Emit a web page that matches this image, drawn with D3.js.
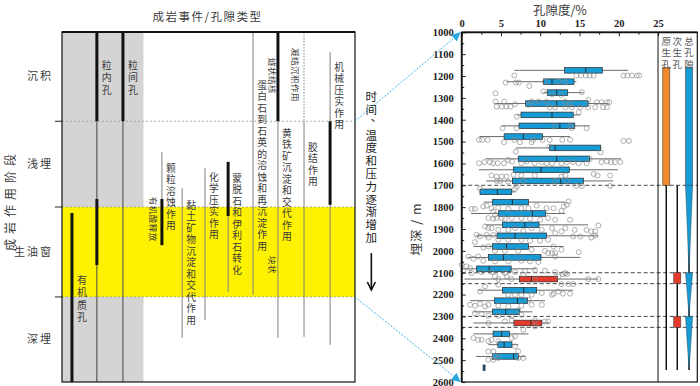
<!DOCTYPE html>
<html>
<head>
<meta charset="utf-8">
<script src="https://cdn.jsdelivr.net/npm/d3@7"></script>
<style>
body { margin: 0; background: #fff; }
svg text { font-family: "Noto Sans CJK SC", sans-serif; fill: #3a3a3a; }
svg text.num { font-family: "Liberation Serif", serif; font-weight: bold; fill: #222; }
</style>
</head>
<body>
<div id="chart"></div>
<script>
// ---- left panel: diagenetic stages, pore types, events (relative burial scale 0-100) ----
const stageNames = ["沉积", "浅埋", "生油窗", "深埋"];
const stageBounds = [0, 25.5, 50, 75.7, 100];

const poreTypes = ["有机质孔", "粒内孔", "粒间孔"];
const porePos = [3.4, 11.9, 20.8];
const poreLabelTop = [69.4, 8, 8];
const poreSegs = [
    [[51.7, 100, "thick"]],
    [[0, 25.5, "thick"], [25.5, 47.7, "dark"], [47.7, 66.6, "thick"], [66.6, 100, "dark"]],
    [[0, 25.5, "thick"], [25.5, 100, "dark"]]
];

const events = ["颗粒溶蚀作用", "黏土矿物沉淀和交代作用", "化学压实作用", "蒙脱石和伊利石转化",
    "蛋白石到石英的溶蚀和再沉淀作用", "黄铁矿沉淀和交代作用", "胶结作用", "机械压实作用"];
const eventPos = [34.1, 41.0, 48.8, 56.7, 65.2, 73.7, 82.6, 91.5];
const eventLabelTop = [37.4, 48, 40, 40.3, 13.7, 27.4, 31.4, 8.6];
const eventSegs = [
    [[34.3, 47.7, "thin"], [47.7, 60.9, "thick"]],
    [[44.6, 87.4, "thin"]],
    [[38.9, 82.3, "thin"]],
    [[37.1, 52.6, "thick"], [52.6, 74.3, "thin"]],
    [[0, 75.1, "thin"]],
    [[0, 25.5, "thick"], [25.5, 87.4, "thin"]],
    [[0, 25.5, "dot"], [25.5, 87.1, "thin"]],
    [[5.7, 25.5, "thin"], [25.5, 49.4, "thick"], [49.4, 89.4, "thin"]]
];
// small sideways notes
const notes = ["有机酸释放", "燧状结核", "块状", "凝结沉积作用"];
const notePos = [30.9, 71.7, 71.7, 79.5];
const noteTop = [47.1, 7.4, 64, 4.6];

// ---- right panel: porosity box plots by depth ----
const depthBins = [1174, 1226, 1276, 1326, 1378, 1428, 1477, 1529, 1579, 1629, 1680, 1730, 1777, 1829,
    1881, 1931, 1980, 2030, 2082, 2129, 2180, 2228, 2279, 2330, 2380, 2429, 2483, 2535];
const whiskerLow = [6.7, 5.7, 10.4, 4.2, 7.0, 5.1, 2.25, 6.9, 3.0, 2.2, 3.1, 2.3, 2.8, 1.2,
    3.0, 1.8, 1.5, 0.75, 0.0, 0.34, 2.1, 1.06, 1.5, 1.5, 1.5, 3.4, 1.8, 2.75];
const q1 = [13.1, 10.4, 10.9, 8.15, 7.55, 7.3, 5.4, 11.2, 7.2, 6.6, 6.45, 2.33, 3.9, 4.7,
    5.2, 4.5, 3.9, 3.4, 1.9, 7.35, 5.2, 4.16, 3.9, 6.65, 4.0, 4.6, 3.9, 2.72];
const median = [15.8, 11.5, 12.1, 12.1, 11.5, 12.5, 7.85, 11.9, 12.1, 10.1, 12.6, 4.54, 6.45, 9.0,
    8.05, 6.8, 5.7, 5.3, 3.5, 8.9, 7.9, 7.1, 5.6, 8.8, 5.1, 5.4, 6.6, 2.85];
const q3 = [17.9, 14.3, 13.5, 16.1, 14.2, 14.4, 10.3, 17.7, 16.3, 13.7, 15.5, 6.37, 8.5, 10.7,
    9.85, 10.8, 8.5, 10.1, 6.3, 12.2, 9.55, 8.4, 7.35, 10.2, 6.1, 6.4, 7.2, 2.98];
const whiskerHigh = [21.2, 14.6, 15.5, 18.7, 15.1, 16.3, 13.8, 17.8, 20.3, 19.9, 19.3, 6.9, 13.2, 13.2,
    16.1, 17.4, 13.0, 15.1, 9.5, 17.4, 14.2, 10.6, 9.0, 11.2, 8.5, 7.2, 8.1, 2.98];
const secondaryBins = [2129, 2330];

// individual samples [porosity %, depth m]
const samples = [
    [6.7, 1198], [14.6, 1198], [15.2, 1198], [15.8, 1198], [16.3, 1198], [16.8, 1198], [20.6, 1198], [21.1, 1198], [21.7, 1198], [22.3, 1198], [22.6, 1198],
    [5.6, 1230], [6.9, 1230], [7.3, 1230], [8.6, 1246], [10.6, 1226], [12.3, 1226], [13.2, 1229],
    [4.3, 1279], [10.4, 1271], [11.5, 1284], [12.7, 1287], [15.3, 1274],
    [4.3, 1317], [5.4, 1317], [4.45, 1340], [5.1, 1340], [5.7, 1340], [6.2, 1340], [6.8, 1329], [8.9, 1317], [9.8, 1317], [10.8, 1317],
    [13.2, 1317], [13.8, 1325], [16.1, 1310], [17.2, 1320], [17.8, 1320], [18.5, 1320], [18.8, 1320], [16.1, 1343], [17.0, 1343],
    [18.0, 1343], [18.5, 1343], [13.2, 1343], [14.0, 1343], [15.1, 1343], [11.9, 1343], [11.2, 1343], [8.5, 1332],
    [7.0, 1386], [14.9, 1366],
    [5.2, 1439], [7.0, 1439], [11.8, 1431], [13.8, 1431], [14.0, 1439], [15.9, 1439],
    [2.2, 1492], [2.6, 1492], [3.3, 1492], [5.4, 1503], [6.7, 1492], [7.4, 1503], [8.9, 1503], [9.1, 1492], [10.3, 1492],
    [11.2, 1492], [12.8, 1492], [13.8, 1492], [20.6, 1497], [21.3, 1497],
    [6.9, 1546], [11.2, 1523], [17.7, 1549],
    [2.2, 1599], [2.9, 1594], [3.6, 1594], [4.0, 1599], [4.6, 1599], [5.4, 1599], [5.9, 1584], [6.4, 1591], [7.6, 1599], [8.3, 1591],
    [9.3, 1599], [10.2, 1594], [10.8, 1599], [11.5, 1599], [12.7, 1599], [13.4, 1594], [14.2, 1594], [14.9, 1599], [15.9, 1599],
    [16.3, 1579], [17.8, 1594], [18.5, 1591], [19.0, 1594], [20.2, 1594], [19.5, 1594],
    [3.8, 1655], [4.45, 1660], [5.1, 1660], [5.7, 1660], [6.6, 1652], [7.6, 1655], [9.3, 1655], [13.2, 1655], [12.7, 1660],
    [16.8, 1648], [17.3, 1655], [18.9, 1655],
    [4.45, 1680], [4.9, 1680], [5.9, 1683], [7.0, 1706], [7.85, 1680], [11.9, 1680], [13.4, 1680], [14.6, 1703], [15.3, 1703], [18.9, 1703],
    [2.33, 1716], [6.79, 1716],
    [1.27, 1808], [1.69, 1808], [2.75, 1797], [3.18, 1793], [3.8, 1805], [4.66, 1802], [5.94, 1808], [7.6, 1805], [8.5, 1805],
    [9.55, 1793], [10.8, 1805], [11.7, 1805], [13.0, 1797], [13.6, 1774], [13.4, 1789],
    [3.4, 1850], [4.03, 1853], [4.45, 1850], [5.1, 1850], [5.5, 1853], [6.36, 1850], [7.6, 1850], [8.7, 1853], [10.0, 1858],
    [11.0, 1850], [11.9, 1858], [13.8, 1858], [12.7, 1817], [4.03, 1820], [4.24, 1835],
    [2.97, 1888], [3.4, 1896], [3.8, 1896], [4.66, 1904], [5.94, 1904], [6.79, 1896], [7.85, 1908], [8.9, 1896], [10.2, 1904],
    [11.5, 1896], [13.2, 1896], [14.4, 1904], [15.9, 1904], [16.5, 1911], [17.4, 1884], [17.0, 1911],
    [1.9, 1927], [2.33, 1934], [3.18, 1927], [3.4, 1939], [4.03, 1927], [4.66, 1949], [5.94, 1949], [7.6, 1949], [8.7, 1954],
    [9.97, 1954], [11.0, 1949], [11.9, 1919], [12.7, 1911], [14.2, 1934], [15.1, 1934], [16.5, 1939], [17.0, 1930],
    [1.69, 1960], [2.75, 1984], [3.4, 1980], [4.24, 2000], [5.5, 2000], [7.2, 2000], [8.9, 1995], [10.6, 2000], [11.7, 1980],
    [12.7, 1995], [11.5, 2010],
    [0.85, 2026], [1.48, 2036], [2.1, 2026], [2.75, 2045], [4.24, 2048], [5.94, 2048], [7.6, 2045], [8.7, 2048], [9.76, 2051],
    [11.0, 2010], [11.9, 2010], [11.9, 2026], [14.9, 2006],
    [0, 2064], [0.6, 2071], [1.06, 2079], [0.2, 2091], [1.27, 2102], [2.54, 2097], [3.8, 2097], [5.5, 2102], [6.79, 2097],
    [8.06, 2091], [9.33, 2087], [10.6, 2091], [11.9, 2097], [12.9, 2106], [13.4, 2106], [4.24, 2117], [5.73, 2117],
    [4.66, 2129], [6.36, 2129], [7.85, 2109], [9.33, 2132], [12.3, 2117], [13.2, 2102], [12.7, 2152], [13.6, 2152], [14.2, 2152],
    [16.1, 2129], [17.4, 2129],
    [2.33, 2186], [2.97, 2163], [4.66, 2155], [5.94, 2201], [6.79, 2201], [7.6, 2201], [8.9, 2201], [10.2, 2193], [11.5, 2201], [12.3, 2186],
    [1.06, 2247], [1.69, 2251], [2.33, 2242], [2.97, 2254], [3.4, 2247], [4.66, 2251], [5.94, 2254], [7.6, 2251], [8.9, 2247],
    [10.2, 2247], [8.5, 2224], [11.7, 2196], [12.9, 2196], [13.8, 2196],
    [1.69, 2285], [2.54, 2288], [3.4, 2297], [4.66, 2297], [6.36, 2297], [7.6, 2292], [7.2, 2272],
    [3.4, 2330], [5.5, 2323], [6.36, 2318], [9.33, 2318], [10.6, 2323], [11.0, 2323], [9.33, 2346],
    [1.48, 2399], [2.1, 2407], [2.54, 2407], [3.4, 2414], [3.8, 2407], [6.36, 2399], [6.79, 2391], [7.85, 2361],
    [3.4, 2460], [4.03, 2460], [4.66, 2414], [7.2, 2460], [6.79, 2437],
    [3.4, 2498], [4.03, 2498], [4.66, 2490], [7.2, 2490], [7.85, 2490], [4.24, 2483]
];

// zone boundaries and pore evolution columns
const zoneDepths = [1700, 2100, 2150, 2300, 2350];
const columnNames = ["原生孔", "次生孔", "总孔隙"];
const columnPos = [26.05, 27.45, 28.95];
const primaryBar = [1160, 1700];
const primaryTail = [1700, 2545];
const secondaryLine = [1700, 2545];
const secondaryZones = [[2100, 2150], [2300, 2350]];
const totalBar = [1160, 1700];
const totalWedges = [[1700, 2095], [2100, 2295], [2300, 2545]];

const xTicks = [0, 5, 10, 15, 20, 25];
const yTicks = d3.range(1000, 2601, 100);

const blue = "#179bd7", red = "#e63a2c", orange = "#f28a2d", arrowBlue = "#2aa7e1";

const svg = d3.select("#chart").append("svg")
    .attr("width", 700)
    .attr("height", 386);

const defs = svg.append("defs");
defs.append("marker").attr("id", "tip")
    .attr("viewBox", "0 0 10 10").attr("refX", 10).attr("refY", 5)
    .attr("markerWidth", 9).attr("markerHeight", 9).attr("markerUnits", "userSpaceOnUse")
    .attr("orient", "auto")
    .append("path").attr("d", "M0,0L10,5L0,10z").attr("fill", arrowBlue);

// vertical text, one upright character per cell
function vText(g, str, cx, top, size, step) {
    const t = g.append("text").attr("font-size", size).attr("text-anchor", "middle");
    [...str].forEach((ch, i) => {
        const isMark = ch === "、";
        t.append("tspan")
            .attr("x", isMark ? cx + size * 0.45 : cx)
            .attr("y", top + i * step + size * (isMark ? 0.35 : 0.88))
            .text(ch);
    });
    return t;
}

// ===== left panel =====
const lx = d3.scaleLinear().domain([0, 100]).range([62, 355]);
const ly = d3.scaleLinear().domain([0, 100]).range([32, 382]);
const left = svg.append("g");

left.append("rect")
    .attr("x", lx(0)).attr("y", ly(0))
    .attr("width", lx(porePos[2] + 7) - lx(0)).attr("height", ly(100) - ly(0))
    .attr("fill", "#d4d4d4");

left.append("rect")
    .attr("x", lx(0)).attr("y", ly(stageBounds[2]))
    .attr("width", lx(100) - lx(0)).attr("height", ly(stageBounds[3]) - ly(stageBounds[2]))
    .attr("fill", "#fff200");

// stage boundaries
stageBounds.slice(1, 4).forEach(b => {
    left.append("line")
        .attr("x1", lx(0)).attr("x2", lx(100)).attr("y1", ly(b)).attr("y2", ly(b))
        .attr("stroke", "#999").attr("stroke-width", 0.8).attr("stroke-dasharray", "2,2");
    left.append("line")
        .attr("x1", lx(0) - 7).attr("x2", lx(0)).attr("y1", ly(b)).attr("y2", ly(b))
        .attr("stroke", "#222").attr("stroke-width", 1);
});

const segStyle = {
    thick: { stroke: "#111", width: 3, dash: null },
    dark: { stroke: "#444", width: 1, dash: null },
    thin: { stroke: "#808080", width: 1, dash: null },
    dot: { stroke: "#808080", width: 1, dash: "1.5,1.5" }
};
function drawSegs(pos, segs) {
    segs.forEach(s => {
        const st = segStyle[s[2]];
        left.append("line")
            .attr("x1", lx(pos)).attr("x2", lx(pos))
            .attr("y1", ly(s[0])).attr("y2", ly(s[1]))
            .attr("stroke", st.stroke).attr("stroke-width", st.width)
            .attr("stroke-dasharray", st.dash);
    });
}

poreTypes.forEach((name, i) => {
    drawSegs(porePos[i], poreSegs[i]);
    vText(left, name, lx(porePos[i]) + 10, ly(poreLabelTop[i]), 10, 12.5);
});
events.forEach((name, i) => {
    drawSegs(eventPos[i], eventSegs[i]);
    vText(left, name, lx(eventPos[i]) + 9, ly(eventLabelTop[i]), 9.8, 11.5);
});
notes.forEach((name, i) => {
    left.append("text")
        .attr("transform", `translate(${lx(notePos[i])},${ly(noteTop[i])}) rotate(90)`)
        .attr("dy", "0.35em")
        .attr("font-size", 8.5)
        .attr("letter-spacing", 0.5)
        .text(name);
});

// frame
left.append("rect")
    .attr("x", lx(0)).attr("y", ly(0))
    .attr("width", lx(100) - lx(0)).attr("height", ly(100) - ly(0))
    .attr("fill", "none").attr("stroke", "#111").attr("stroke-width", 1.2);
left.append("line")
    .attr("x1", lx(0)).attr("x2", lx(100)).attr("y1", ly(0)).attr("y2", ly(0))
    .attr("stroke", "#111").attr("stroke-width", 2);

stageNames.forEach((name, i) => {
    left.append("text")
        .attr("x", 53).attr("y", ly((stageBounds[i] + stageBounds[i + 1]) / 2))
        .attr("dy", "0.35em")
        .attr("text-anchor", "end")
        .attr("font-size", 11)
        .attr("letter-spacing", 2)
        .text(name);
});
left.append("text")
    .attr("transform", `translate(11,${ly(48)}) rotate(-90)`)
    .attr("dy", "0.35em")
    .attr("text-anchor", "middle")
    .attr("font-size", 12)
    .attr("letter-spacing", 5)
    .text("成岩作用阶段");
left.append("text")
    .attr("x", (lx(0) + lx(100)) / 2 - 1).attr("y", 21)
    .attr("text-anchor", "middle")
    .attr("font-size", 11.5)
    .attr("letter-spacing", 1.5)
    .text("成岩事件/孔隙类型");

// ===== right panel =====
const x = d3.scaleLinear().domain([0, 30]).range([461.7, 697.3]);
const y = d3.scaleLinear().domain([1000, 2600]).range([32.3, 382]);
const right = svg.append("g");
const boxH = 5.6;

// zone lines
zoneDepths.forEach(d => {
    right.append("line")
        .attr("x1", x(0)).attr("x2", x(30)).attr("y1", y(d)).attr("y2", y(d))
        .attr("stroke", "#333").attr("stroke-width", 0.9).attr("stroke-dasharray", "4,2.5");
});

// whiskers
right.selectAll(".whisker").data(depthBins).enter().append("line")
    .attr("class", "whisker")
    .attr("x1", (d, i) => x(whiskerLow[i])).attr("x2", (d, i) => x(whiskerHigh[i]))
    .attr("y1", d => y(d)).attr("y2", d => y(d))
    .attr("stroke", "#444").attr("stroke-width", 0.8);

// boxes
right.selectAll(".box").data(depthBins).enter().append("rect")
    .attr("class", "box")
    .attr("x", (d, i) => x(q1[i]))
    .attr("y", d => y(d) - boxH / 2)
    .attr("width", (d, i) => Math.max(x(q3[i]) - x(q1[i]), 1))
    .attr("height", boxH)
    .attr("fill", d => secondaryBins.includes(d) ? red : blue)
    .attr("stroke", "#2b2b2b").attr("stroke-width", 0.7);

right.selectAll(".med").data(depthBins).enter().append("line")
    .attr("class", "med")
    .attr("x1", (d, i) => x(median[i])).attr("x2", (d, i) => x(median[i]))
    .attr("y1", d => y(d) - boxH / 2).attr("y2", d => y(d) + boxH / 2)
    .attr("stroke", "#222").attr("stroke-width", 0.9);

// samples
right.selectAll(".pt").data(samples).enter().append("circle")
    .attr("class", "pt")
    .attr("cx", d => x(d[0])).attr("cy", d => y(d[1]))
    .attr("r", 2.5)
    .attr("fill", "none").attr("stroke", "#8a8a8a").attr("stroke-width", 0.75)
    .attr("stroke-opacity", 0.9);

// pore evolution columns
const half = 0.45;
function bar(col, range, color) {
    right.append("rect")
        .attr("x", x(columnPos[col] - half)).attr("y", y(range[0]))
        .attr("width", x(columnPos[col] + half) - x(columnPos[col] - half))
        .attr("height", y(range[1]) - y(range[0]))
        .attr("fill", color).attr("stroke", "#444").attr("stroke-width", 0.6);
}
function vline(col, range) {
    right.append("line")
        .attr("x1", x(columnPos[col])).attr("x2", x(columnPos[col]))
        .attr("y1", y(range[0])).attr("y2", y(range[1]))
        .attr("stroke", "#111").attr("stroke-width", 1.5);
}
bar(0, primaryBar, orange);
vline(0, primaryTail);
vline(1, secondaryLine);
secondaryZones.forEach(z => bar(1, z, red));
bar(2, totalBar, blue);
vline(2, [totalWedges[0][0], totalWedges[2][1]]);
totalWedges.forEach(w => {
    const c = columnPos[2];
    right.append("path")
        .attr("d", `M${x(c - half)},${y(w[0])}L${x(c + half)},${y(w[0])}L${x(c)},${y(w[1])}Z`)
        .attr("fill", blue).attr("stroke", "#2a4a5a").attr("stroke-width", 0.5);
});
columnNames.forEach((name, i) => {
    vText(right, name, x(columnPos[i]), y(1000) + 4, 9.5, 11.5).style("fill", "#555");
});

// axes
const yAxis = right.append("g").attr("transform", `translate(${x(0)},0)`)
    .call(d3.axisLeft(y).tickValues(yTicks).tickSize(-4).tickPadding(8).tickFormat(d3.format("d")));
right.append("g").attr("transform", `translate(${x(0)},0)`)
    .call(d3.axisLeft(y).tickValues(yTicks.slice(0, -1).map(d => d + 50)).tickSize(-2.5).tickFormat(""))
    .select(".domain").remove();
const xAxis = right.append("g").attr("transform", `translate(0,${y(1000)})`)
    .call(d3.axisTop(x).tickValues(xTicks).tickSize(-4).tickPadding(5));
right.append("g").attr("transform", `translate(0,${y(1000)})`)
    .call(d3.axisTop(x).tickValues(xTicks.slice(0, -1).map(d => d + 2.5)).tickSize(-2.5).tickFormat(""))
    .select(".domain").remove();
[yAxis, xAxis].forEach(a => {
    a.select(".domain").remove();
    a.selectAll("text").attr("class", "num").attr("font-size", 10.5);
});
svg.selectAll(".tick line").attr("stroke", "#222");

// frame
right.append("rect")
    .attr("x", x(0)).attr("y", y(1000))
    .attr("width", x(30) - x(0)).attr("height", y(2600) - y(1000))
    .attr("fill", "none").attr("stroke", "#111").attr("stroke-width", 1.2);
right.append("line")
    .attr("x1", x(0)).attr("x2", x(0)).attr("y1", y(1000)).attr("y2", y(2600))
    .attr("stroke", "#111").attr("stroke-width", 1.8);
right.append("line")
    .attr("x1", x(0)).attr("x2", x(30)).attr("y1", y(1000)).attr("y2", y(1000))
    .attr("stroke", "#111").attr("stroke-width", 1.8);
right.append("line")
    .attr("x1", x(25)).attr("x2", x(25)).attr("y1", y(1000)).attr("y2", y(2600))
    .attr("stroke", "#111").attr("stroke-width", 1);

right.append("text")
    .attr("x", (x(0) + x(25)) / 2).attr("y", 15)
    .attr("text-anchor", "middle")
    .attr("font-size", 12.5)
    .text("孔隙度/%");
right.append("text")
    .attr("transform", `translate(417,${y(1900)}) rotate(-90)`)
    .attr("dy", "0.35em")
    .attr("text-anchor", "middle")
    .attr("font-size", 12.5)
    .attr("letter-spacing", 1)
    .text("埋深 / m");

// ===== links between panels =====
const links = [[stageBounds[1], 1000], [stageBounds[3], 2600]];
links.forEach(l => {
    svg.append("line")
        .attr("x1", lx(100)).attr("y1", ly(l[0]))
        .attr("x2", x(0) - 1).attr("y2", y(l[1]))
        .attr("stroke", arrowBlue).attr("stroke-width", 0.9)
        .attr("stroke-dasharray", "2,1.5")
        .attr("marker-end", "url(#tip)");
});

const midX = (lx(100) + x(0)) / 2 - 37;
vText(svg, "时间、温度和压力逐渐增加", midX, 91, 11.5, 12.8).style("fill", "#222");
svg.append("line")
    .attr("x1", midX).attr("x2", midX).attr("y1", 253).attr("y2", 290)
    .attr("stroke", "#111").attr("stroke-width", 1.6);
svg.append("path")
    .attr("d", `M${midX - 4},282L${midX},290L${midX + 4},282`)
    .attr("fill", "none").attr("stroke", "#111").attr("stroke-width", 1.6);
</script>
</body>
</html>
